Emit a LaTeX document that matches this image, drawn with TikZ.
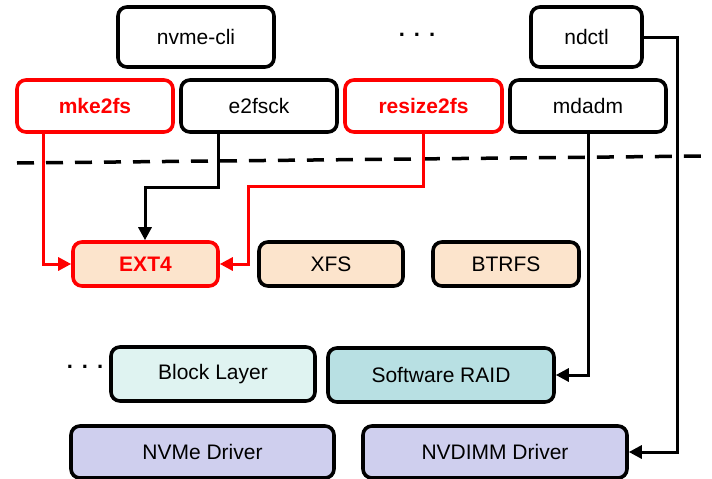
\documentclass[tikz,border=0pt]{standalone}
\usepackage{fontspec}
\setmainfont{Liberation Sans}
\usetikzlibrary{arrows.meta}
\definecolor{myred}{RGB}{255,0,0}
\definecolor{fsfill}{RGB}{252,228,204}
\definecolor{blkfill}{RGB}{223,243,241}
\definecolor{raidfill}{RGB}{184,224,227}
\definecolor{drvfill}{RGB}{207,207,238}
\begin{document}
\begin{tikzpicture}[x=1pt,y=-1pt,
  box/.style={draw=black,line width=3.6pt,rounded corners=9pt,font=\fontsize{21}{24}\selectfont},
  redbox/.style={box,draw=myred,text=myred,font=\fontsize{21}{24}\selectfont\bfseries},
  conn/.style={line width=3pt,rounded corners=0pt},
  tip/.style={-{Triangle[length=13pt,width=13pt]}},
  dotstxt/.style={font=\fontsize{22}{22}\selectfont\bfseries,anchor=base,inner sep=0pt}
]
\useasboundingbox (0,0) rectangle (712,479);
% top tools
\node[box,minimum width=156pt,minimum height=60pt,inner sep=0pt] (nvme) at (196,37) {nvme-cli};
\node[box,minimum width=111pt,minimum height=60pt,inner sep=0pt] (ndctl) at (586.5,37) {ndctl};
\node[redbox,minimum width=156pt,minimum height=52pt,inner sep=0pt] (mke) at (95,106) {mke2fs};
\node[box,minimum width=156pt,minimum height=52pt,inner sep=0pt] (e2f) at (259,106) {e2fsck};
\node[redbox,minimum width=157pt,minimum height=52pt,inner sep=0pt] (rsz) at (423.5,106) {resize2fs};
\node[box,minimum width=156pt,minimum height=52pt,inner sep=0pt] (mdadm) at (588,106) {mdadm};
\node[dotstxt] (dots1) at (417,36) {.\hspace{9pt}.\hspace{9pt}.};
% dashed line
\coordinate (dl) at (17,163);
\coordinate (dr) at (708,156);
\draw[line width=3.5pt,dash pattern=on 17pt off 12pt] (dl) -- (dr);
% file systems
\node[redbox,fill=fsfill,minimum width=145pt,minimum height=44pt,inner sep=0pt] (ext4) at (145.5,264) {EXT4};
\node[box,fill=fsfill,minimum width=144pt,minimum height=44pt,inner sep=0pt] (xfs) at (331,264) {XFS};
\node[box,fill=fsfill,minimum width=146pt,minimum height=44pt,inner sep=0pt] (btrfs) at (506,264) {BTRFS};
% block
\node[box,fill=blkfill,minimum width=204pt,minimum height=54pt,inner sep=0pt] (blk) at (213,374) {Block Layer};
\node[box,fill=raidfill,minimum width=226pt,minimum height=54pt,inner sep=0pt] (raid) at (441,375) {Software RAID};
\node[dotstxt] (dots2) at (85,368) {.\hspace{9pt}.\hspace{9pt}.};
% drivers
\node[box,fill=drvfill,minimum width=263pt,minimum height=52pt,inner sep=0pt] (nvmed) at (202.5,452) {NVMe Driver};
\node[box,fill=drvfill,minimum width=264pt,minimum height=52pt,inner sep=0pt] (nvdimm) at (495,452) {NVDIMM Driver};
% connectors
\draw[conn,tip,draw=myred] (mke.south -| 43,0) |- (ext4.west);
\draw[conn,tip,draw=myred] (rsz.south) |- (248,186) |- (ext4.east);
\draw[conn,tip] (e2f.south -| 218,0) |- (145,187) -- (ext4.north -| 145,0);
\draw[conn,tip] (mdadm.south) |- (raid.east);
\draw[conn,tip] (ndctl.east) -| (677,300) |- (nvdimm.east);
\end{tikzpicture}
\end{document}
